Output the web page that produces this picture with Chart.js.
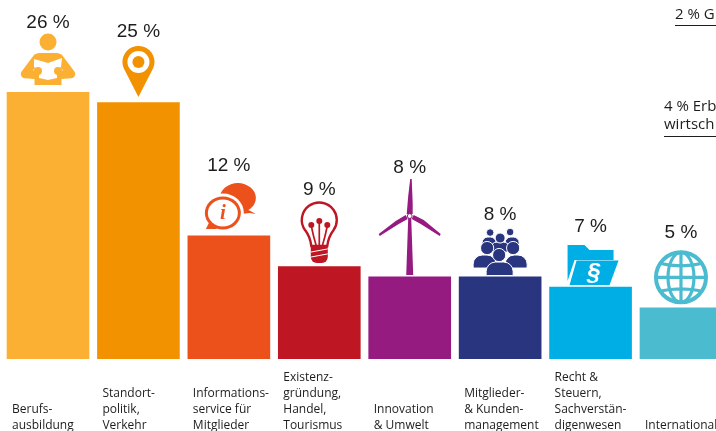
<!DOCTYPE html>
<html lang="de">
<head>
<meta charset="utf-8">
<title>Themen</title>
<script src="https://cdn.jsdelivr.net/npm/chart.js@4"></script>
<style>
  html, body { margin: 0; padding: 0; background: #fff; overflow: hidden; }
  #frame { width: 716px; height: 431px; overflow: hidden; }
  canvas { display: block; }
</style>
</head>
<body>
<div id="frame"><canvas id="chart" width="730" height="431"></canvas></div>
<script>
// Topic labels, padded at the top so every label ends on the same line
const categories = [
  ['', '', 'Berufs-', 'ausbildung'],
  ['', 'Standort-', 'politik,', 'Verkehr'],
  ['', 'Informations-', 'service für', 'Mitglieder'],
  ['Existenz-', 'gründung,', 'Handel,', 'Tourismus'],
  ['', '', 'Innovation', '& Umwelt'],
  ['', 'Mitglieder-', '& Kunden-', 'management'],
  ['Recht &', 'Steuern,', 'Sachverstän-', 'digenwesen'],
  ['', '', '', 'International']
];
const shares = [26, 25, 12, 9, 8, 8, 7, 5];
const barColors = ['#FBB034', '#F39200', '#EC511C', '#BE1622', '#951B81', '#29357F', '#00AEE6', '#4BBCD0'];
const labelGaps = [70, 71, 70, 77, 109, 62, 60, 75];
const iconGaps = [28.3, 40.6, 21.9, 46.7, 60.9, 23.9, 22.2, 30.4];
const INK = '#1d1d1b';

function poly(ctx, pts) {
  ctx.beginPath();
  pts.forEach((p, i) => i ? ctx.lineTo(p[0], p[1]) : ctx.moveTo(p[0], p[1]));
  ctx.closePath();
}
function disc(ctx, x, y, r) {
  ctx.beginPath();
  ctx.arc(x, y, r, 0, Math.PI * 2);
  ctx.fill();
}
function oval(ctx, x, y, rx, ry) {
  ctx.beginPath();
  ctx.ellipse(x, y, rx, ry, 0, 0, Math.PI * 2);
}

// Pictograms, each drawn around its own centre
const icons = [
  function reader(ctx, c) {
    ctx.fillStyle = c; ctx.strokeStyle = c;
    disc(ctx, 0, -22, 8.5);
    ctx.lineCap = 'round'; ctx.lineJoin = 'round';
    ctx.beginPath();
    ctx.roundRect(-13.5, -11, 27, 32, [5, 5, 0, 0]);
    ctx.fill();
    ctx.lineWidth = 8.5;
    ctx.beginPath();
    ctx.moveTo(-11, -6); ctx.lineTo(-23, 10); ctx.lineTo(-10, 11);
    ctx.moveTo(11, -6); ctx.lineTo(23, 10); ctx.lineTo(10, 11);
    ctx.stroke();
    ctx.fillStyle = '#fff';
    poly(ctx, [[-14, -5], [0, -1], [14, -6], [13, 3], [9, 6], [9, 14], [0, 16], [-9, 14], [-9, 6], [-14, 3]]);
    ctx.fill();
    ctx.fillStyle = c;
    disc(ctx, -10, 7, 4);
    disc(ctx, 10, 7, 4);
  },
  function pin(ctx, c) {
    ctx.fillStyle = c;
    ctx.beginPath();
    ctx.arc(0, 0, 16, Math.PI * 0.87, Math.PI * 0.13);
    ctx.lineTo(0, 35);
    ctx.closePath();
    ctx.fill();
    ctx.fillStyle = '#fff';
    disc(ctx, 0, 0, 11);
    ctx.fillStyle = c;
    disc(ctx, 0, 0, 6);
  },
  function chat(ctx, c) {
    ctx.fillStyle = c;
    oval(ctx, 9, -16, 18, 15);
    ctx.fill();
    poly(ctx, [[16, -6], [27, 0], [21, -1], [12, 0]]);
    ctx.fill();
    ctx.fillStyle = '#fff';
    oval(ctx, -6, -1, 21, 19.5);
    ctx.fill();
    oval(ctx, -6, -1, 18, 16.5);
    ctx.fillStyle = c;
    ctx.fill();
    poly(ctx, [[-20, 9], [-23, 15], [-12, 15], [-14, 10]]);
    ctx.fill();
    ctx.fillStyle = '#fff';
    oval(ctx, -6, -1, 15, 13.5);
    ctx.fill();
    ctx.fillStyle = c;
    ctx.font = 'italic bold 21px "Liberation Serif"';
    ctx.textAlign = 'center';
    ctx.textBaseline = 'middle';
    ctx.fillText('i', -6, 0);
  },
  function bulb(ctx, c) {
    ctx.strokeStyle = c; ctx.fillStyle = c;
    ctx.lineWidth = 2.4; ctx.lineCap = 'round';
    ctx.beginPath();
    ctx.arc(0, 0, 17.5, Math.PI * 0.8, Math.PI * 0.2);
    ctx.quadraticCurveTo(9, 17, 8, 26);
    ctx.lineTo(-8, 26);
    ctx.quadraticCurveTo(-9, 17, -14, 10.3);
    ctx.stroke();
    ctx.lineWidth = 1.7;
    ctx.beginPath();
    ctx.moveTo(-8, 6); ctx.quadraticCurveTo(-6, 16, -3, 26);
    ctx.moveTo(0, 1); ctx.lineTo(0, 26);
    ctx.moveTo(8, 6); ctx.quadraticCurveTo(6, 16, 3, 26);
    ctx.stroke();
    disc(ctx, -8, 5, 3);
    disc(ctx, 0, 1, 3);
    disc(ctx, 8, 5, 3);
    ctx.beginPath();
    ctx.roundRect(-8.5, 26, 17, 17, [1, 1, 6, 6]);
    ctx.fill();
    ctx.strokeStyle = '#fff';
    ctx.lineWidth = 1;
    ctx.beginPath();
    ctx.moveTo(-8, 32); ctx.lineTo(8, 29);
    ctx.moveTo(-8, 37); ctx.lineTo(8, 34);
    ctx.stroke();
  },
  function turbine(ctx, c) {
    ctx.fillStyle = c;
    poly(ctx, [[-1.5, 2], [1.5, 2], [3.5, 59], [-3.5, 59]]);
    ctx.fill();
    poly(ctx, [[-3, -2], [3, -2], [3, -12], [2, -37], [0.5, -37], [-1.5, -20]]);
    ctx.fill();
    poly(ctx, [[-4, -1], [-2, 3], [-11, 8], [-30, 20], [-31, 18], [-14, 5]]);
    ctx.fill();
    poly(ctx, [[4, -1], [2, 3], [11, 8], [30, 20], [31, 18], [14, 4]]);
    ctx.fill();
    ctx.strokeStyle = c;
    ctx.fillStyle = '#fff';
    ctx.lineWidth = 1;
    disc(ctx, 0, 0, 2.4);
    ctx.beginPath();
    ctx.arc(0, 0, 2.4, 0, Math.PI * 2);
    ctx.stroke();
  },
  function people(ctx, c) {
    ctx.lineWidth = 1;
    ctx.strokeStyle = '#fff';
    const body = (x, y, w, h) => {
      ctx.beginPath();
      ctx.roundRect(x, y, w, h, [h * 0.7, h * 0.7, 1, 1]);
      ctx.fillStyle = c;
      ctx.fill();
      ctx.stroke();
    };
    const head = (x, y, r) => {
      ctx.beginPath();
      ctx.arc(x, y, r, 0, Math.PI * 2);
      ctx.fillStyle = c;
      ctx.fill();
      ctx.stroke();
    };
    body(-18, -16, 14, 8);
    body(5, -16, 14, 8);
    head(-10, -20.5, 3.8);
    head(10, -21, 3.8);
    body(-10, -11, 20, 10);
    head(0, -15, 5);
    body(-27, 2, 23, 13);
    body(5, 2, 22, 13);
    head(-13, -5, 6.6);
    head(13, -5, 6.6);
    body(-14, 9, 27, 13.5);
    head(-1, 2, 6.6);
  },
  function folder(ctx, c) {
    ctx.fillStyle = c;
    poly(ctx, [[-23, -20], [-6, -20], [-1, -15], [23, -15], [23, -5], [-16, -5], [-23, 16]]);
    ctx.fill();
    poly(ctx, [[-14, -4.5], [28, -4.5], [19, 20], [-21, 20]]);
    ctx.fill();
    ctx.fillStyle = '#fff';
    ctx.font = 'italic bold 24px "Liberation Sans"';
    ctx.textAlign = 'center';
    ctx.textBaseline = 'middle';
    ctx.fillText('§', 3, 8);
  },
  function globe(ctx, c) {
    ctx.strokeStyle = c;
    ctx.lineWidth = 4;
    oval(ctx, 0, 0, 25, 25);
    ctx.stroke();
    ctx.lineWidth = 3.2;
    oval(ctx, 0, 0, 13, 25);
    ctx.stroke();
    ctx.beginPath();
    ctx.moveTo(0, -25); ctx.lineTo(0, 25);
    ctx.moveTo(-25, 0); ctx.lineTo(25, 0);
    ctx.moveTo(-22, -14); ctx.quadraticCurveTo(0, -9, 22, -14);
    ctx.moveTo(-22, 14); ctx.quadraticCurveTo(0, 9, 22, 14);
    ctx.stroke();
  }
];

const barDecorations = {
  id: 'barDecorations',
  afterDatasetsDraw(chart) {
    const { ctx } = chart;
    const bars = chart.getDatasetMeta(0).data;
    bars.forEach((bar, i) => {
      ctx.save();
      ctx.translate(bar.x, bar.y - iconGaps[i]);
      icons[i](ctx, barColors[i]);
      ctx.restore();

      ctx.save();
      ctx.fillStyle = INK;
      ctx.font = '19px "Liberation Sans"';
      ctx.textAlign = 'center';
      ctx.textBaseline = 'middle';
      ctx.fillText(shares[i] + ' %', bar.x, bar.y - labelGaps[i]);
      ctx.restore();
    });
  },
  // Smaller topics listed at the upper right, running off the page edge
  afterDraw(chart) {
    const { ctx } = chart;
    ctx.save();
    ctx.fillStyle = INK;
    ctx.strokeStyle = INK;
    ctx.font = '15px "Open Sans"';
    ctx.textBaseline = 'alphabetic';
    ctx.textAlign = 'left';
    ctx.fillText('2 % G', 675, 19);
    ctx.fillText('4 % Erb', 664, 111);
    ctx.fillText('wirtsch', 664, 129);
    ctx.lineWidth = 1;
    ctx.beginPath();
    ctx.moveTo(675, 25.5); ctx.lineTo(716, 25.5);
    ctx.moveTo(664, 136.5); ctx.lineTo(716, 136.5);
    ctx.stroke();
    ctx.restore();
  }
};

new Chart(document.getElementById('chart'), {
  type: 'bar',
  data: {
    labels: categories,
    datasets: [{
      data: shares,
      backgroundColor: barColors,
      barThickness: 82,
      borderWidth: 0
    }]
  },
  options: {
    responsive: false,
    animation: false,
    layout: { padding: { left: 2.8, right: 3.8, top: 0, bottom: 0 } },
    plugins: { legend: { display: false }, tooltip: { enabled: false } },
    scales: {
      y: { display: false, min: 0, max: 35 },
      x: {
        // Fixed band under the bars; long labels may overhang the category edges
        afterFit(scale) {
          scale.height = 72;
          scale.paddingLeft = 0;
          scale.paddingRight = 0;
        },
        grid: { display: false },
        border: { display: false },
        ticks: {
          autoSkip: false,
          maxRotation: 0,
          minRotation: 0,
          align: 'start',
          labelOffset: -36,
          padding: 3,
          color: INK,
          font: { family: '"Open Sans"', size: 12, lineHeight: 1.333 }
        }
      }
    }
  },
  plugins: [barDecorations]
});
</script>
</body>
</html>
